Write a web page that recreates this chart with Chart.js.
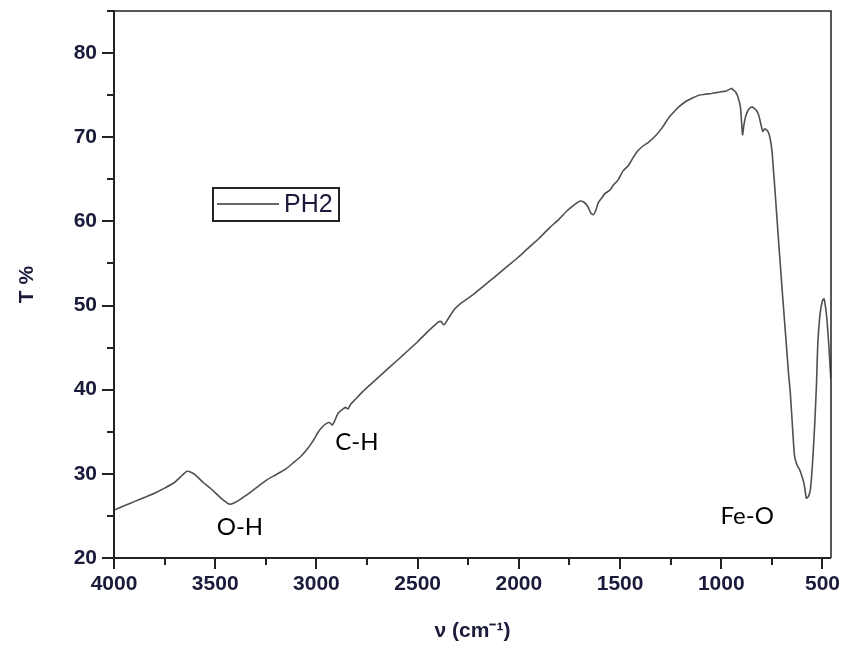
<!DOCTYPE html>
<html>
<head>
<meta charset="utf-8">
<script src="https://cdn.jsdelivr.net/npm/chart.js@4"></script>
<style>
  body { margin: 0; background: #fff; }
  canvas { display: block; }
</style>
</head>
<body>
<canvas id="myChart" width="844" height="650"></canvas>
<script>
// wavenumber (cm-1) and transmittance (%)
const wavenumber = [
  4000, 3950, 3900, 3850, 3800, 3750, 3700, 3660, 3640, 3620, 3600, 3560, 3520, 3480, 3450,
  3430, 3410, 3380, 3350, 3300, 3250, 3200, 3150, 3120, 3080, 3050, 3020, 2990, 2970, 2950,
  2935, 2922, 2910, 2893, 2870, 2855, 2845, 2830, 2810, 2770, 2720, 2660, 2600, 2550, 2500,
  2450, 2400, 2385, 2370, 2350, 2320, 2290, 2226, 2150, 2100, 2050, 2000, 1960, 1900, 1850,
  1800, 1764, 1730, 1700, 1680, 1660, 1645, 1632, 1620, 1608, 1590, 1575, 1551, 1530, 1510,
  1485, 1460, 1440, 1419, 1390, 1360, 1320, 1290, 1260, 1238, 1210, 1172, 1140, 1110, 1080,
  1050, 1025, 1000, 975, 951, 940, 930, 918, 905, 895, 888, 878, 865, 850, 840,
  827, 815, 803, 795, 785, 770, 760, 750, 742, 735, 728, 715, 704, 690, 679,
  668, 659, 648, 638, 625, 613, 600, 590, 580, 570, 560, 550, 539, 530, 523,
  512, 500, 492, 485, 478, 468, 459
];
const transmittance = [
  25.7, 26.2, 26.7, 27.2, 27.7, 28.3, 29.0, 29.9, 30.3, 30.2, 29.9, 29.0, 28.2, 27.3, 26.7,
  26.4, 26.5, 26.9, 27.4, 28.3, 29.2, 29.9, 30.6, 31.2, 32.0, 32.8, 33.8, 35.0, 35.6, 36.0,
  36.1, 35.8, 36.3, 37.2, 37.7, 37.9, 37.7, 38.3, 38.8, 39.8, 40.9, 42.2, 43.5, 44.6, 45.7,
  46.9, 48.0, 48.1, 47.7, 48.4, 49.5, 50.2, 51.3, 52.8, 53.8, 54.8, 55.8, 56.7, 58.0, 59.2,
  60.3, 61.2, 61.9, 62.4, 62.3, 61.8, 61.0, 60.8, 61.3, 62.2, 62.8, 63.3, 63.7, 64.4, 64.9,
  66.0, 66.6, 67.4, 68.2, 68.9, 69.4, 70.3, 71.2, 72.3, 72.9, 73.6, 74.3, 74.7, 75.0, 75.1,
  75.2, 75.3, 75.4, 75.5, 75.8, 75.6, 75.4, 74.8, 73.5, 70.3, 71.5, 72.6, 73.3, 73.6, 73.5,
  73.2, 72.6, 71.4, 70.7, 71.0, 70.7, 70.0, 68.5, 66.0, 63.8, 61.4, 57.0, 53.4, 48.9, 45.5,
  42.0, 39.6, 35.5, 32.1, 31.0, 30.5, 29.6, 28.7, 27.1, 27.3, 28.1, 31.0, 35.6, 40.5, 45.5,
  49.0, 50.6, 50.8, 49.8, 48.3, 45.0, 41.3
];

const xTicks = [4000, 3500, 3000, 2500, 2000, 1500, 1000, 500];
const xMinor = [3750, 3250, 2750, 2250, 1750, 1250, 750];
const yTicks = [20, 30, 40, 50, 60, 70, 80];
const yMinor = [25, 35, 45, 55, 65, 75, 85];

const bandNames = ["O-H", "C-H", "Fe-O"];
const bandX = [3378, 2800, 872];
const bandY = [23.7, 33.75, 25.0];

const axisColor = "#222";
const labelFont = { family: "'Liberation Sans'", size: 21, weight: "bold" };

// axes frame, tick marks, band labels and the boxed legend
const frame = {
  id: "frame",
  afterDraw(chart) {
    const ctx = chart.ctx;
    const a = chart.chartArea;
    const xs = chart.scales.x;
    const ys = chart.scales.y;
    ctx.save();
    ctx.strokeStyle = axisColor;

    ctx.lineWidth = 1.5;
    ctx.beginPath();
    ctx.moveTo(a.left, a.top);
    ctx.lineTo(a.right, a.top);
    ctx.lineTo(a.right, a.bottom);
    ctx.stroke();

    ctx.lineWidth = 2;
    ctx.beginPath();
    ctx.moveTo(a.left, a.top - 1);
    ctx.lineTo(a.left, a.bottom);
    ctx.lineTo(a.right, a.bottom);
    ctx.stroke();

    ctx.beginPath();
    xTicks.forEach((v) => {
      const px = Math.round(xs.getPixelForValue(v));
      ctx.moveTo(px, a.bottom);
      ctx.lineTo(px, a.bottom + 11);
    });
    xMinor.forEach((v) => {
      const px = Math.round(xs.getPixelForValue(v));
      ctx.moveTo(px, a.bottom);
      ctx.lineTo(px, a.bottom + 7);
    });
    yTicks.forEach((v) => {
      const py = Math.round(ys.getPixelForValue(v));
      ctx.moveTo(a.left, py);
      ctx.lineTo(a.left - 12, py);
    });
    yMinor.forEach((v) => {
      const py = Math.round(ys.getPixelForValue(v));
      ctx.moveTo(a.left, py);
      ctx.lineTo(a.left - 7, py);
    });
    ctx.stroke();

    // band labels
    ctx.fillStyle = "#000";
    ctx.font = "24px Lato";
    ctx.textAlign = "center";
    ctx.textBaseline = "middle";
    bandNames.forEach((name, i) => {
      ctx.fillText(name, xs.getPixelForValue(bandX[i]), ys.getPixelForValue(bandY[i]));
    });

    // legend
    const lx = a.left + 99;
    const ly = a.top + 177;
    ctx.lineWidth = 2;
    ctx.strokeRect(lx, ly, 126, 33);
    const ds = chart.data.datasets[0];
    ctx.strokeStyle = "#333";
    ctx.lineWidth = 1.5;
    ctx.beginPath();
    ctx.moveTo(lx + 4, ly + 16);
    ctx.lineTo(lx + 66, ly + 16);
    ctx.stroke();
    ctx.font = "25px 'Liberation Sans'";
    ctx.textAlign = "left";
    ctx.fillStyle = "#1a1a3a";
    ctx.fillText(ds.label, lx + 71, ly + 17);
    ctx.restore();
  },
};

new Chart(document.getElementById("myChart"), {
  type: "line",
  data: {
    datasets: [
      {
        label: "PH2",
        data: wavenumber.map((w, i) => ({ x: w, y: transmittance[i] })),
        borderColor: "#505050",
        borderWidth: 1.6,
        pointRadius: 0,
        tension: 0.2,
        fill: false,
      },
    ],
  },
  options: {
    responsive: false,
    animation: false,
    layout: { autoPadding: false, padding: { left: 0, right: 13, top: 11, bottom: 0 } },
    plugins: { legend: { display: false }, tooltip: { enabled: false } },
    scales: {
      x: {
        type: "linear",
        reverse: true,
        min: 458,
        max: 4000,
        grid: { display: false, drawTicks: false },
        border: { display: false },
        afterBuildTicks: (s) => { s.ticks = xTicks.map((v) => ({ value: v })); },
        afterFit: (s) => {
          s.height = 92;
          s.paddingLeft = 0;
          s.paddingRight = 0;
        },
        ticks: {
          color: "#1a1a3a",
          font: labelFont,
          padding: 14,
          maxRotation: 0,
          autoSkip: false,
          callback: (v) => String(v),
        },
        title: {
          display: true,
          text: "ν (cm⁻¹)",
          color: "#1a1a3a",
          font: labelFont,
          padding: { top: 4, bottom: 6 },
        },
      },
      y: {
        min: 20,
        max: 85,
        grid: { display: false, drawTicks: false },
        border: { display: false },
        afterBuildTicks: (s) => { s.ticks = yTicks.map((v) => ({ value: v })); },
        afterFit: (s) => {
          s.width = 114;
          s.paddingTop = 0;
          s.paddingBottom = 0;
        },
        ticks: {
          color: "#1a1a3a",
          font: labelFont,
          padding: 17,
          callback: (v) => String(v),
        },
        title: {
          display: true,
          text: "T %",
          color: "#1a1a3a",
          font: labelFont,
          padding: { top: 15, bottom: 0 },
        },
      },
    },
  },
  plugins: [frame],
});
</script>
</body>
</html>
